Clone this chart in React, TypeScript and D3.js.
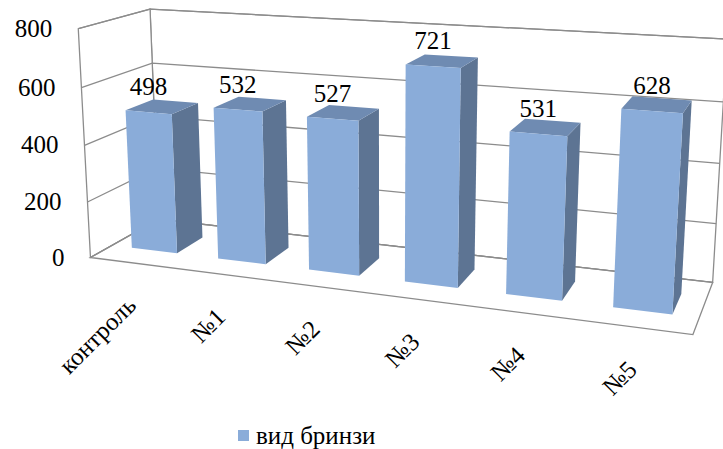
import React from "react";
import * as d3 from "d3";

const categories = ["контроль", "№1", "№2", "№3", "№4", "№5"];
const values = [498, 532, 527, 721, 531, 628];
const yTicks = [0, 200, 400, 600, 800];
const seriesName = "вид бринзи";

const width = 723;
const height = 449;
const font = "'Liberation Serif', 'DejaVu Serif', 'Times New Roman', Times, serif";

// world: x = category units (0..6), y = value/100 (0..8), z = depth (0 front .. 1 back)
// screen points of the chart box, used to fit the perspective camera
const boxRefs: number[][] = [
  [0, 0, 0, 92, 257],
  [0, 2, 0, 88, 202],
  [0, 4, 0, 85, 145],
  [0, 6, 0, 82, 88],
  [0, 8, 0, 75, 29],
  [0, 0, 1, 156, 220],
  [0, 6, 1, 153, 63],
  [0, 8, 1, 152, 9],
  [6, 0, 1, 713, 282],
  [6, 0, 0, 693, 335],
  [6, 6, 1, 723, 102],
  [6, 8, 1, 727, 39],
];

// least squares DLT: 11 camera params
function fitCamera(refs: number[][]) {
  const A: number[][] = [];
  const b: number[] = [];
  refs.forEach(([X, Y, Z, u0, v0]) => {
    const u = u0 / 100;
    const v = v0 / 100;
    A.push([X, Y, Z, 1, 0, 0, 0, 0, -u * X, -u * Y, -u * Z]);
    b.push(u);
    A.push([0, 0, 0, 0, X, Y, Z, 1, -v * X, -v * Y, -v * Z]);
    b.push(v);
  });
  const n = 11;
  const M = d3.range(n).map((i) => {
    const row = d3.range(n).map((j) => d3.sum(A, (r) => r[i] * r[j]));
    row.push(d3.sum(A, (r, k) => r[i] * b[k]));
    return row;
  });
  for (let c = 0; c < n; c++) {
    let piv = c;
    for (let r = c + 1; r < n; r++) if (Math.abs(M[r][c]) > Math.abs(M[piv][c])) piv = r;
    [M[c], M[piv]] = [M[piv], M[c]];
    for (let r = 0; r < n; r++) {
      if (r === c) continue;
      const f = M[r][c] / M[c][c];
      for (let k = c; k <= n; k++) M[r][k] -= f * M[c][k];
    }
  }
  return d3.range(n).map((i) => M[i][n] / M[i][i]);
}

const cam = fitCamera(boxRefs);
const project = (X: number, Y: number, Z: number): [number, number] => {
  const w = cam[8] * X + cam[9] * Y + cam[10] * Z + 1;
  return [
    (100 * (cam[0] * X + cam[1] * Y + cam[2] * Z + cam[3])) / w,
    (100 * (cam[4] * X + cam[5] * Y + cam[6] * Z + cam[7])) / w,
  ];
};

const x = d3
  .scaleBand()
  .domain(categories)
  .range([0, 6])
  .paddingInner(0.47)
  .paddingOuter(0.235);
const y = d3.scaleLinear().domain([0, 800]).range([0, 8]);
const zFront = 0.3;
const zBack = 0.7;

const poly = (pts: number[][]) =>
  pts.map((p) => project(p[0], p[1], p[2]).join(",")).join(" ");

export default function App() {
  const top = y(800);
  const gridColor = "#8c8c8c";

  return (
    <svg
      width={width}
      height={height}
      fontFamily={font}
      style={{ position: "absolute", left: 0, top: 0, background: "#fff" }}
    >
      {/* walls and floor */}
      <g fill="#fff" stroke={gridColor} strokeWidth={1.3}>
        <polygon points={poly([[0, 0, 1], [0, top, 1], [6, top, 1], [6, 0, 1]])} />
        <polygon points={poly([[0, 0, 0], [0, top, 0], [0, top, 1], [0, 0, 1]])} />
        <polygon points={poly([[0, 0, 0], [0, 0, 1], [6, 0, 1], [6, 0, 0]])} />
      </g>
      <g stroke={gridColor} strokeWidth={1.3}>
        {yTicks.map((t) => {
          const a = project(0, y(t), 0);
          const b = project(0, y(t), 1);
          const c = project(6, y(t), 1);
          return <polyline key={t} fill="none" points={`${a} ${b} ${c}`} />;
        })}
      </g>
      {/* tick labels */}
      <g fontSize={25} textAnchor="end" fill="#000">
        {yTicks.map((t) => {
          const [px, py] = project(0, y(t), 0);
          return (
            <text key={t} x={px - 26} y={py + 8} fontFamily={font}>
              {t}
            </text>
          );
        })}
      </g>
      {/* bars */}
      {categories.map((c, i) => {
        const x0 = x(c)!;
        const x1 = x0 + x.bandwidth();
        const h = y(values[i]);
        const [lx, ly] = project((x0 + x1) / 2, h, zFront);
        return (
          <g key={c}>
            <polygon
              fill="#5d7493"
              points={poly([[x1, 0, zFront], [x1, 0, zBack], [x1, h, zBack], [x1, h, zFront]])}
            />
            <polygon
              fill="#6f8bb2"
              points={poly([[x0, h, zFront], [x1, h, zFront], [x1, h, zBack], [x0, h, zBack]])}
            />
            <polygon
              fill="#8aacd9"
              points={poly([[x0, 0, zFront], [x1, 0, zFront], [x1, h, zFront], [x0, h, zFront]])}
            />
            <text x={lx} y={ly - 17} fontSize={25} textAnchor="middle" fontFamily={font}>
              {values[i]}
            </text>
          </g>
        );
      })}
      {/* category labels */}
      <g fontSize={25} textAnchor="end">
        {categories.map((c) => {
          const [px, py] = project(x(c)! + x.bandwidth() / 2, 0, 0);
          return (
            <text
              key={c}
              fontFamily={font}
              transform={`translate(${px + 4},${py + 44}) rotate(-45)`}
            >
              {c}
            </text>
          );
        })}
      </g>
      {/* legend */}
      <rect x={238} y={430} width={11} height={11} fill="#8aacd9" />
      <text x={256} y={444} fontSize={25} fontFamily={font}>
        {seriesName}
      </text>
    </svg>
  );
}
